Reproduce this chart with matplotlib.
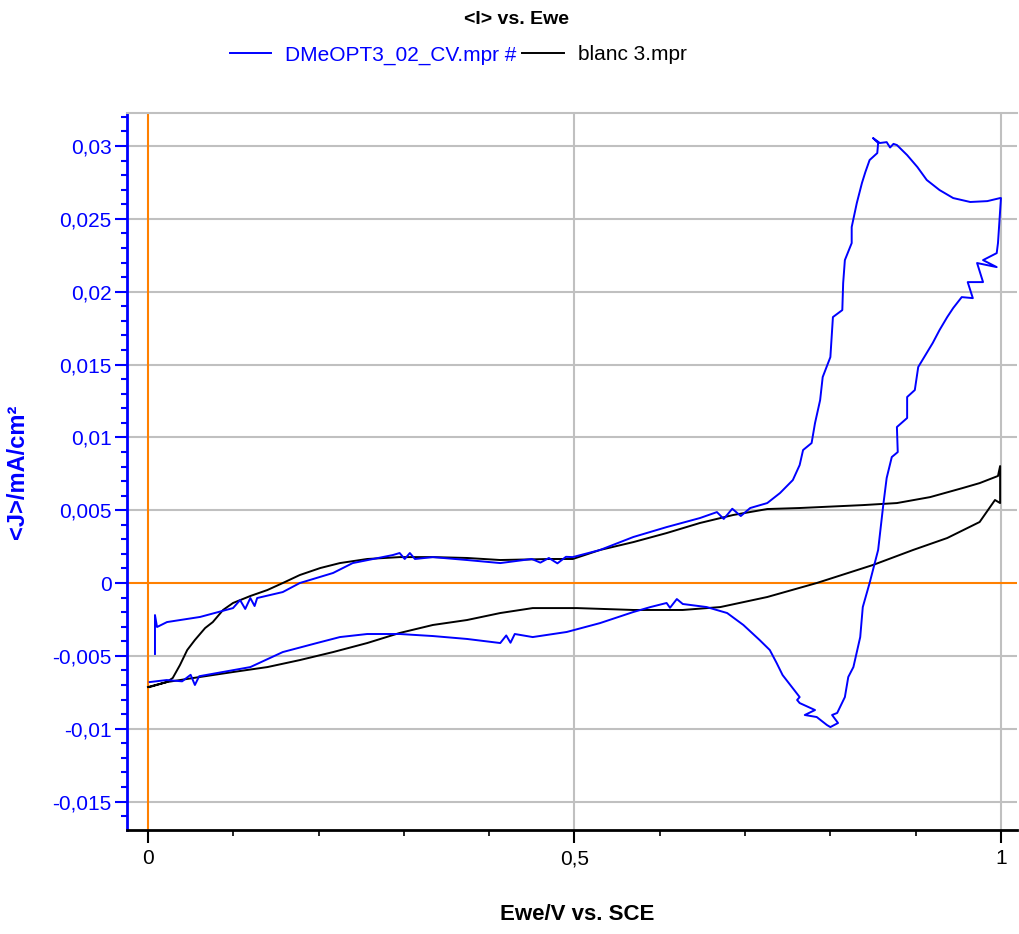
import matplotlib
matplotlib.use('Agg')
import matplotlib.pyplot as plt
from matplotlib.ticker import MultipleLocator, FuncFormatter

plt.rcParams['font.family'] = ['Liberation Sans', 'DejaVu Sans']

# Courbe DMeOPT3 (Ewe en V, <J> en mA/cm2 x 1e-3)
blue_x = [0.0082, 0.0082, 0.0106, 0.0223, 0.061, 0.0997, 0.108, 0.114, 0.120, 0.125, 0.128,
          0.158, 0.178, 0.217, 0.240, 0.287, 0.295, 0.301, 0.307, 0.313, 0.334, 0.374, 0.413,
          0.450, 0.460, 0.470, 0.480, 0.490, 0.498, 0.530, 0.569, 0.608, 0.647, 0.667, 0.675,
          0.685, 0.695, 0.706, 0.726, 0.741, 0.756, 0.764, 0.768, 0.778, 0.782, 0.788, 0.791,
          0.800, 0.803, 0.814, 0.815, 0.817, 0.825, 0.825, 0.831, 0.837, 0.841, 0.846, 0.855,
          0.856, 0.850, 0.858, 0.866, 0.870, 0.874, 0.878, 0.890, 0.902, 0.913, 0.928, 0.944,
          0.964, 0.984, 0.999, 1.000, 0.9965, 0.995, 0.979, 0.995, 0.972, 0.979, 0.961, 0.967,
          0.954, 0.944, 0.937, 0.928, 0.920, 0.903, 0.899, 0.890, 0.890, 0.878, 0.879, 0.872,
          0.866, 0.862, 0.856, 0.846, 0.838, 0.835, 0.827, 0.821, 0.817, 0.808, 0.802, 0.809,
          0.800, 0.796, 0.784, 0.770, 0.782, 0.764, 0.761, 0.764, 0.753, 0.744, 0.737, 0.729,
          0.717, 0.698, 0.679, 0.655, 0.627, 0.620, 0.612, 0.608, 0.589, 0.569, 0.530, 0.491,
          0.451, 0.430, 0.425, 0.420, 0.413, 0.374, 0.334, 0.295, 0.257, 0.225, 0.198, 0.158,
          0.120, 0.081, 0.060, 0.055, 0.050, 0.040, 0.022, 0.002]
blue_y = [-4.87, -2.20, -3.02, -2.68, -2.33, -1.72, -1.17, -1.78, -1.03, -1.58, -1.03,
          -0.62, 0.0, 0.69, 1.37, 1.92, 2.06, 1.65, 2.06, 1.65, 1.78, 1.58, 1.37,
          1.65, 1.40, 1.72, 1.35, 1.80, 1.78, 2.27, 3.16, 3.84, 4.46, 4.87, 4.40,
          5.10, 4.60, 5.15, 5.49, 6.18, 7.07, 8.10, 9.13, 9.61, 10.98, 12.56, 14.14,
          15.51, 18.26, 18.74, 20.59, 22.17, 23.34, 24.44, 26.09, 27.46, 28.21, 29.04, 29.52,
          30.21, 30.55, 30.21, 30.27, 29.90, 30.15, 30.07, 29.38, 28.56, 27.67, 26.98, 26.43,
          26.16, 26.22, 26.43, 26.43, 23.34, 22.65, 22.17, 21.69, 21.97, 20.66, 20.66, 19.56,
          19.63, 18.88, 18.26, 17.37, 16.48, 14.83, 13.25, 12.77, 11.33, 10.71, 8.99, 8.65,
          7.21, 5.35, 2.27, 0.0, -1.65, -3.71, -5.77, -6.45, -7.83, -8.92, -9.06, -9.61,
          -9.89, -9.75, -9.20, -9.06, -8.72, -8.24, -8.03, -7.83, -7.00, -6.32, -5.49, -4.60,
          -3.91, -2.88, -2.06, -1.65, -1.44, -1.10, -1.70, -1.37, -1.65, -1.99, -2.75, -3.36,
          -3.71, -3.50, -4.10, -3.60, -4.12, -3.84, -3.64, -3.50, -3.50, -3.71, -4.12, -4.74,
          -5.77, -6.18, -6.40, -7.00, -6.30, -6.75, -6.66, -6.80]

# Courbe blanc 3
black_x = [0.000, 0.022, 0.029, 0.0375, 0.046, 0.055, 0.067, 0.076, 0.088, 0.0997, 0.120,
           0.140, 0.158, 0.178, 0.202, 0.225, 0.257, 0.295, 0.334, 0.374, 0.413, 0.471,
           0.498, 0.530, 0.569, 0.608, 0.647, 0.686, 0.726, 0.764, 0.838, 0.878, 0.917,
           0.955, 0.975, 0.9965, 0.999, 0.999, 0.993, 0.975, 0.937, 0.897, 0.850, 0.784,
           0.726, 0.671, 0.627, 0.569, 0.503, 0.451, 0.413, 0.374, 0.334, 0.295, 0.257,
           0.217, 0.178, 0.140, 0.0997, 0.061, 0.022, 0.002]
black_y = [-7.14, -6.80, -6.52, -5.63, -4.60, -3.91, -3.09, -2.68, -1.85, -1.37, -0.89,
           -0.48, 0.0, 0.55, 1.03, 1.37, 1.65, 1.78, 1.78, 1.72, 1.58, 1.65,
           1.65, 2.27, 2.81, 3.43, 4.12, 4.67, 5.08, 5.15, 5.35, 5.49, 5.90,
           6.52, 6.86, 7.35, 8.03, 5.49, 5.70, 4.19, 3.09, 2.27, 1.24, 0.0,
           -0.96, -1.65, -1.85, -1.85, -1.72, -1.72, -2.06, -2.54, -2.88, -3.43, -4.12,
           -4.74, -5.29, -5.77, -6.11, -6.45, -6.80, -7.14]

blue_y = [v / 1000 for v in blue_y]
black_y = [v / 1000 for v in black_y]

fig = plt.figure(figsize=(10.19, 9.34), dpi=100)
ax = fig.add_axes([127 / 1019, 1 - 830 / 934, 890 / 1019, 717 / 934])

ax.plot(blue_x, blue_y, color='#0000ff', lw=1.4, label='DMeOPT3_02_CV.mpr #', zorder=4)
ax.plot(black_x, black_y, color='black', lw=1.4, label='blanc 3.mpr', zorder=3)

ax.set_xlim(-0.0246, 1.0188)
ax.set_ylim(-0.016956, 0.03227)

# grille
for yv in [-0.015, -0.01, -0.005, 0.005, 0.01, 0.015, 0.02, 0.025, 0.03]:
    ax.axhline(yv, color='#c0c0c0', lw=1.5, zorder=1)
for xv in [0.5, 1.0]:
    ax.axvline(xv, color='#c0c0c0', lw=1.5, zorder=1)
ax.axhline(0, color='#ff8000', lw=1.5, zorder=2)
ax.axvline(0, color='#ff8000', lw=1.5, zorder=2)

ax.spines['right'].set_visible(False)
ax.spines['top'].set_color('#c0c0c0')
ax.spines['top'].set_linewidth(1.5)
ax.spines['left'].set_color('#0000ff')
ax.spines['left'].set_linewidth(2)
ax.spines['bottom'].set_color('black')
ax.spines['bottom'].set_linewidth(2)

comma = FuncFormatter(lambda v, p: ('%g' % round(v, 4)).replace('.', ','))
ax.yaxis.set_major_locator(MultipleLocator(0.005))
ax.yaxis.set_minor_locator(MultipleLocator(0.001))
ax.xaxis.set_major_locator(MultipleLocator(0.5))
ax.xaxis.set_minor_locator(MultipleLocator(0.1))
ax.yaxis.set_major_formatter(comma)
ax.xaxis.set_major_formatter(comma)

ax.tick_params(axis='y', which='major', colors='#0000ff', length=9, width=1.5, labelsize=15, pad=2)
ax.tick_params(axis='y', which='minor', colors='#0000ff', length=4.5, width=1.5)
ax.tick_params(axis='x', which='major', colors='black', length=9, width=1.5, labelsize=15, pad=5)
ax.tick_params(axis='x', which='minor', colors='black', length=4, width=1.2)

fig.text(516 / 1019, 1 - 19 / 934, '<I> vs. Ewe', ha='center', va='center',
         fontsize=14, fontweight='bold')
fig.legend(loc='center', bbox_to_anchor=(458 / 1019, 1 - 55 / 934), ncol=2,
           frameon=False, fontsize=15, handlelength=2.0, columnspacing=0.3,
           handletextpad=0.65, labelcolor='linecolor')
fig.text(18 / 1019, 1 - 472 / 934, '<J>/mA/cm²', rotation=90, ha='center', va='center',
         fontsize=17, fontweight='bold', color='#0000ff')
fig.text(577 / 1019, 1 - 915 / 934, 'Ewe/V vs. SCE', ha='center', va='center',
         fontsize=16, fontweight='bold')

fig.savefig('out.png', dpi=100)
